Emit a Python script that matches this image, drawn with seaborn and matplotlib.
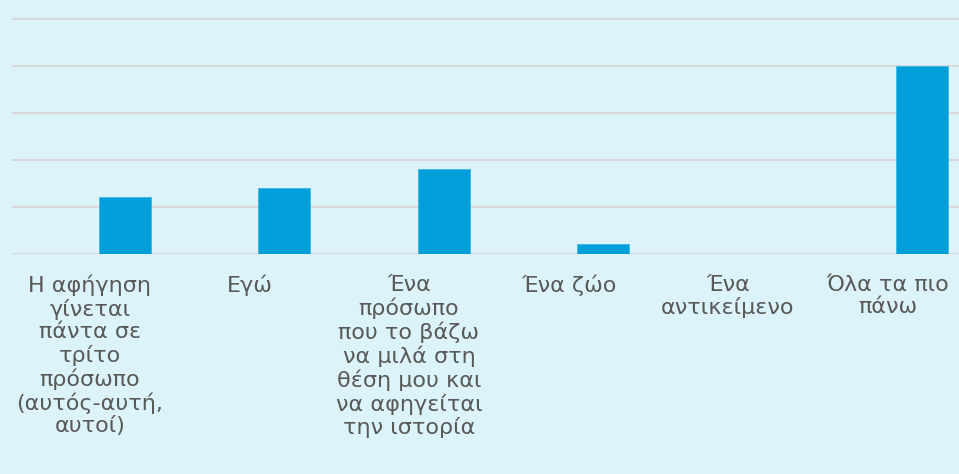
import matplotlib
matplotlib.use("Agg")
import matplotlib.pyplot as plt
import matplotlib.transforms as mtransforms
import seaborn as sns
import pandas as pd

categories = [
    "Η αφήγηση\nγίνεται\nπάντα σε\nτρίτο\nπρόσωπο\n(αυτός-αυτή,\nαυτοί)",
    "Εγώ",
    "Ένα\nπρόσωπο\nπου το βάζω\nνα μιλά στη\nθέση μου και\nνα αφηγείται\nτην ιστορία",
    "Ένα ζώο",
    "Ένα\nαντικείμενο",
    "Όλα τα πιο\nπάνω",
]
values = [6, 7, 9, 1, 0, 20]
y_ticks = [0, 5, 10, 15, 20, 25]

bg = "#DCF4F9"
bar_color = "#009FD9"
text_color = "#595959"
grid_color = "#D9D9D9"

sns.set_theme(style="white")
plt.rcParams['font.family'] = ['DejaVu Sans']

df = pd.DataFrame({"cat": categories, "val": values})

fig = plt.figure(figsize=(9.59, 4.74), dpi=100)
fig.patch.set_facecolor(bg)
top_px, base_px = 10, 253.7
ax = fig.add_axes([12/959, 1 - base_px/474, 1 - 12/959, (base_px - top_px)/474])
ax.set_facecolor(bg)

sns.barplot(data=df, x="cat", y="val", color=bar_color, saturation=1,
            width=0.326, ax=ax, edgecolor="#3DB8E6", linewidth=0.6)

ax.set_xlim(-0.708, 5.229)
ax.set_ylim(0, 25 * (base_px - top_px) / (base_px - 18.7))
ax.set_yticks(y_ticks)
ax.yaxis.grid(True, color=grid_color, linewidth=1.4)
ax.set_axisbelow(True)
ax.tick_params(axis="y", left=False, labelleft=False)
ax.tick_params(axis="x", bottom=False, pad=9, labelsize=16, labelcolor=text_color)
shift = mtransforms.ScaledTranslation(-35/100, 0, fig.dpi_scale_trans)
for lbl in ax.get_xticklabels():
    lbl.set_multialignment("center")
    lbl.set_linespacing(1.15)
    lbl.set_transform(lbl.get_transform() + shift)
for s in ax.spines.values():
    s.set_visible(False)
ax.set_xlabel("")
ax.set_ylabel("")

fig.savefig("out.png", dpi=100, facecolor=bg)
